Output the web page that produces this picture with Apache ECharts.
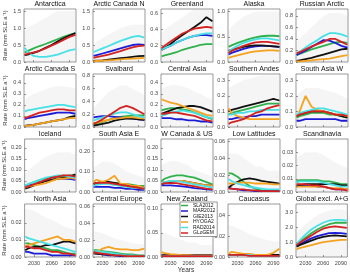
<!DOCTYPE html>
<html>
<head>
<meta charset="utf-8">
<script src="https://cdn.jsdelivr.net/npm/echarts@6/dist/echarts.min.js"></script>
<style>
  html, body { margin: 0; padding: 0; background: #fff; }
  #chart { width: 350px; height: 274px; }
</style>
</head>
<body>
<div id="chart"></div>
<script>
// sample years for every series
const years = [2015, 2020, 2030, 2040, 2050, 2060, 2070, 2080, 2090, 2100];

const panels = ['Antarctica', 'Arctic Canada N', 'Greenland', 'Alaska', 'Russian Arctic',
  'Arctic Canada S', 'Svalbard', 'Central Asia', 'Southern Andes', 'South Asia W',
  'Iceland', 'South Asia E', 'W Canada & US', 'Low Latitudes', 'Scandinavia',
  'North Asia', 'Central Europe', 'New Zealand', 'Caucasus', 'Global excl. A+G'];

const yMax = [1.56, 1.56, 0.65, 1.05, 0.92,
  0.48, 0.83, 0.48, 0.34, 0.34,
  0.24, 0.26, 0.24, 0.0625, 0.04,
  0.031, 0.0625, 0.11, 0.051, 3.56];

const yTicks = [[0, 0.5, 1, 1.5], [0, 0.5, 1, 1.5], [0, 0.2, 0.4, 0.6], [0, 0.5, 1], [0, 0.2, 0.4, 0.6, 0.8],
  [0, 0.1, 0.2, 0.3, 0.4], [0, 0.2, 0.4, 0.6, 0.8], [0, 0.1, 0.2, 0.3, 0.4], [0, 0.1, 0.2, 0.3], [0, 0.1, 0.2, 0.3],
  [0, 0.05, 0.1, 0.15, 0.2], [0, 0.1, 0.2], [0, 0.05, 0.1, 0.15, 0.2], [0, 0.02, 0.04, 0.06], [0, 0.01, 0.02, 0.03],
  [0, 0.01, 0.02], [0, 0.02, 0.04, 0.06], [0, 0.05, 0.1], [0, 0.02, 0.04], [0, 1, 2, 3]];

const yDigits = [1, 1, 1, 1, 1, 1, 1, 1, 1, 1, 2, 2, 2, 2, 2, 2, 2, 2, 2, 1];

const xTicks = [2030, 2060, 2090];

const models = ['SLA2012', 'MAR2012', 'GIE2013', 'HYOGA2', 'RAD2014', 'GLoGEM'];
const colors = ['#2fb14b', '#1c1cd6', '#111111', '#f5a21f', '#46e1e6', '#d42222'];

// upper edge of the faint cloud of individual runs
const spreadHi = [
  [0.9, 1.0, 1.1, 1.2, 1.3, 1.4, 1.5, 1.5, 1.5, 1.5],
  [0.5, 0.6, 0.7, 0.8, 0.9, 1.0, 1.05, 1.1, 1.1, 1.1],
  [0.35, 0.4, 0.45, 0.5, 0.55, 0.6, 0.65, 0.65, 0.65, 0.65],
  [0.6, 0.7, 0.8, 0.9, 0.95, 1.0, 1.0, 1.0, 1.0, 1.0],
  [0.35, 0.4, 0.5, 0.6, 0.7, 0.8, 0.85, 0.85, 0.85, 0.8],
  [0.25, 0.27, 0.3, 0.32, 0.34, 0.36, 0.37, 0.37, 0.36, 0.35],
  [0.3, 0.35, 0.45, 0.55, 0.6, 0.65, 0.65, 0.6, 0.55, 0.5],
  [0.35, 0.36, 0.38, 0.38, 0.37, 0.35, 0.32, 0.3, 0.27, 0.25],
  [0.25, 0.26, 0.28, 0.3, 0.31, 0.32, 0.33, 0.33, 0.33, 0.33],
  [0.2, 0.22, 0.25, 0.25, 0.25, 0.24, 0.23, 0.22, 0.2, 0.18],
  [0.08, 0.1, 0.12, 0.14, 0.16, 0.17, 0.18, 0.18, 0.18, 0.17],
  [0.12, 0.13, 0.15, 0.15, 0.14, 0.12, 0.1, 0.09, 0.08, 0.07],
  [0.12, 0.13, 0.14, 0.14, 0.13, 0.12, 0.1, 0.09, 0.08, 0.07],
  [0.045, 0.045, 0.045, 0.04, 0.035, 0.03, 0.03, 0.025, 0.025, 0.025],
  [0.025, 0.028, 0.03, 0.03, 0.03, 0.028, 0.025, 0.022, 0.02, 0.018],
  [0.028, 0.028, 0.027, 0.025, 0.023, 0.022, 0.02, 0.018, 0.017, 0.016],
  [0.03, 0.03, 0.028, 0.025, 0.022, 0.02, 0.018, 0.016, 0.015, 0.015],
  [0.05, 0.05, 0.045, 0.04, 0.035, 0.03, 0.03, 0.025, 0.025, 0.025],
  [0.03, 0.03, 0.028, 0.025, 0.022, 0.02, 0.018, 0.016, 0.015, 0.015],
  [1.6, 1.8, 2.2, 2.5, 2.8, 3.0, 3.1, 3.2, 3.2, 3.1]
];

// one row per panel, null = model not shown
const SLA2012 = [
  [0.28, 0.32, 0.40, 0.47, 0.53, 0.60, 0.67, 0.74, 0.80, 0.85],
  null,
  [0.07, 0.08, 0.10, 0.12, 0.15, 0.17, 0.19, 0.21, 0.22, 0.22],
  [0.30, 0.33, 0.38, 0.42, 0.46, 0.49, 0.51, 0.52, 0.52, 0.51],
  [0.12, 0.14, 0.18, 0.22, 0.25, 0.28, 0.31, 0.34, 0.35, 0.33],
  null,
  [0.03, 0.05, 0.08, 0.11, 0.14, 0.16, 0.17, 0.18, 0.18, 0.18],
  [0.15, 0.16, 0.17, 0.17, 0.16, 0.15, 0.13, 0.11, 0.09, 0.07],
  [0.08, 0.09, 0.10, 0.11, 0.12, 0.13, 0.14, 0.15, 0.15, 0.15],
  [0.06, 0.07, 0.08, 0.09, 0.09, 0.09, 0.08, 0.08, 0.07, 0.06],
  [0.03, 0.035, 0.045, 0.055, 0.06, 0.065, 0.07, 0.07, 0.075, 0.075],
  [0.04, 0.045, 0.045, 0.045, 0.045, 0.04, 0.04, 0.035, 0.03, 0.03],
  [0.05, 0.06, 0.07, 0.075, 0.075, 0.07, 0.065, 0.055, 0.045, 0.035],
  [0.022, 0.022, 0.018, 0.012, 0.007, 0.004, 0.002, 0.001, 0.001, 0.001],
  [0.008, 0.009, 0.009, 0.009, 0.009, 0.008, 0.008, 0.007, 0.006, 0.006],
  [0.008, 0.008, 0.007, 0.006, 0.005, 0.004, 0.004, 0.003, 0.002, 0.002],
  [0.008, 0.008, 0.007, 0.006, 0.005, 0.004, 0.003, 0.003, 0.002, 0.002],
  [0.002, 0.002, 0.002, 0.002, 0.002, 0.002, 0.002, 0.002, 0.002, 0.002],
  [0.002, 0.002, 0.002, 0.002, 0.002, 0.002, 0.001, 0.001, 0.001, 0.001],
  [0.85, 1.0, 1.3, 1.6, 1.85, 2.05, 2.2, 2.3, 2.3, 2.3]
];

const MAR2012 = [
  null,
  [0.18, 0.20, 0.25, 0.30, 0.35, 0.40, 0.45, 0.50, 0.52, 0.50],
  [0.15, 0.17, 0.20, 0.24, 0.27, 0.30, 0.32, 0.33, 0.33, 0.32],
  [0.15, 0.18, 0.22, 0.26, 0.29, 0.31, 0.32, 0.32, 0.31, 0.30],
  [0.12, 0.15, 0.20, 0.26, 0.32, 0.38, 0.37, 0.33, 0.28, 0.25],
  [0.07, 0.08, 0.09, 0.10, 0.11, 0.12, 0.13, 0.13, 0.13, 0.12],
  [0.15, 0.16, 0.17, 0.17, 0.16, 0.15, 0.14, 0.13, 0.12, 0.11],
  [0.08, 0.08, 0.08, 0.07, 0.07, 0.06, 0.06, 0.05, 0.05, 0.04],
  [0.05, 0.05, 0.06, 0.06, 0.07, 0.07, 0.08, 0.08, 0.08, 0.08],
  [0.04, 0.04, 0.05, 0.05, 0.05, 0.05, 0.05, 0.05, 0.04, 0.04],
  [0.025, 0.03, 0.035, 0.045, 0.05, 0.055, 0.06, 0.06, 0.06, 0.055],
  [0.025, 0.025, 0.025, 0.025, 0.02, 0.02, 0.015, 0.015, 0.01, 0.01],
  [0.03, 0.03, 0.03, 0.028, 0.025, 0.022, 0.018, 0.015, 0.012, 0.01],
  [0.005, 0.004, 0.003, 0.002, 0.002, 0.001, 0.001, 0.001, 0.001, 0.001],
  [0.005, 0.005, 0.005, 0.005, 0.004, 0.004, 0.003, 0.002, 0.002, 0.002],
  [0.003, 0.003, 0.002, 0.002, 0.002, 0.001, 0.001, 0.001, 0.001, 0.001],
  [0.005, 0.004, 0.003, 0.002, 0.002, 0.001, 0.001, 0.001, 0.001, 0.001],
  [0.003, 0.003, 0.003, 0.003, 0.003, 0.002, 0.002, 0.002, 0.002, 0.002],
  [0.002, 0.002, 0.002, 0.002, 0.0015, 0.0015, 0.001, 0.001, 0.001, 0.001],
  [0.75, 0.85, 1.05, 1.25, 1.4, 1.5, 1.6, 1.62, 1.6, 1.55]
];

const GIE2013 = [
  [0.20, 0.22, 0.27, 0.33, 0.42, 0.50, 0.60, 0.70, 0.78, 0.85],
  [0.03, 0.04, 0.05, 0.07, 0.09, 0.11, 0.13, 0.15, 0.17, 0.18],
  [0.15, 0.17, 0.22, 0.28, 0.33, 0.38, 0.43, 0.48, 0.55, 0.50],
  [0.22, 0.24, 0.27, 0.30, 0.32, 0.33, 0.33, 0.32, 0.31, 0.30],
  [0.02, 0.03, 0.05, 0.07, 0.10, 0.13, 0.16, 0.19, 0.22, 0.23],
  [0.01, 0.015, 0.02, 0.03, 0.04, 0.05, 0.06, 0.07, 0.09, 0.10],
  [0.02, 0.03, 0.05, 0.07, 0.10, 0.12, 0.13, 0.13, 0.12, 0.11],
  [0.12, 0.13, 0.15, 0.17, 0.18, 0.19, 0.19, 0.18, 0.16, 0.14],
  [0.10, 0.11, 0.12, 0.13, 0.14, 0.15, 0.16, 0.17, 0.18, 0.17],
  [0.07, 0.08, 0.09, 0.10, 0.10, 0.10, 0.09, 0.08, 0.07, 0.06],
  [0.015, 0.02, 0.03, 0.04, 0.05, 0.055, 0.06, 0.065, 0.07, 0.08],
  [0.04, 0.045, 0.05, 0.05, 0.045, 0.04, 0.035, 0.03, 0.025, 0.02],
  [0.035, 0.04, 0.045, 0.05, 0.05, 0.045, 0.04, 0.035, 0.03, 0.03],
  [0.005, 0.008, 0.012, 0.015, 0.016, 0.015, 0.013, 0.012, 0.011, 0.010],
  [0.004, 0.005, 0.006, 0.006, 0.006, 0.006, 0.006, 0.006, 0.005, 0.005],
  [0.004, 0.005, 0.006, 0.006, 0.007, 0.007, 0.008, 0.009, 0.009, 0.008],
  [0.004, 0.004, 0.003, 0.003, 0.002, 0.002, 0.002, 0.001, 0.001, 0.001],
  [0.004, 0.004, 0.004, 0.004, 0.004, 0.004, 0.004, 0.004, 0.004, 0.004],
  [0.002, 0.002, 0.002, 0.002, 0.002, 0.002, 0.002, 0.002, 0.002, 0.002],
  [0.7, 0.8, 0.95, 1.1, 1.25, 1.35, 1.42, 1.45, 1.42, 1.38]
];

const HYOGA2 = [
  null,
  [0.02, 0.03, 0.04, 0.05, 0.06, 0.08, 0.09, 0.10, 0.11, 0.12],
  null,
  [0.08, 0.10, 0.13, 0.16, 0.19, 0.21, 0.22, 0.23, 0.23, 0.22],
  [0.01, 0.01, 0.02, 0.03, 0.04, 0.05, 0.06, 0.08, 0.10, 0.12],
  [0.01, 0.01, 0.02, 0.03, 0.04, 0.05, 0.06, 0.07, 0.08, 0.08],
  [0.06, 0.07, 0.09, 0.11, 0.13, 0.14, 0.15, 0.15, 0.14, 0.13],
  [0.25, 0.24, 0.22, 0.21, 0.19, 0.17, 0.15, 0.13, 0.11, 0.10],
  [0.12, 0.09, 0.07, 0.06, 0.05, 0.05, 0.05, 0.05, 0.05, 0.05],
  [0.07, 0.10, 0.20, 0.13, 0.11, 0.10, 0.09, 0.08, 0.08, 0.07],
  [0.02, 0.025, 0.03, 0.035, 0.04, 0.05, 0.06, 0.06, 0.065, 0.06],
  [0.05, 0.06, 0.05, 0.06, 0.08, 0.04, 0.04, 0.03, 0.03, 0.02],
  [0.04, 0.045, 0.05, 0.05, 0.05, 0.045, 0.04, 0.035, 0.03, 0.03],
  [0.010, 0.010, 0.011, 0.011, 0.011, 0.010, 0.010, 0.010, 0.009, 0.009],
  [0.004, 0.004, 0.004, 0.004, 0.004, 0.004, 0.003, 0.003, 0.003, 0.002],
  [0.006, 0.007, 0.008, 0.009, 0.010, 0.011, 0.012, 0.010, 0.010, 0.009],
  [0.005, 0.006, 0.010, 0.012, 0.010, 0.009, 0.009, 0.008, 0.008, 0.010],
  [0.010, 0.008, 0.006, 0.005, 0.004, 0.004, 0.003, 0.003, 0.003, 0.003],
  [0.003, 0.005, 0.004, 0.003, 0.003, 0.002, 0.002, 0.002, 0.004, 0.008],
  [0.5, 0.6, 0.7, 0.8, 0.9, 1.0, 1.05, 1.1, 1.15, 1.15]
];

const RAD2014 = [
  [0.42, 0.30, 0.18, 0.15, 0.15, 0.18, 0.22, 0.28, 0.34, 0.38],
  [0.30, 0.33, 0.40, 0.47, 0.55, 0.62, 0.68, 0.74, 0.77, 0.72],
  [0.15, 0.17, 0.20, 0.24, 0.27, 0.30, 0.32, 0.34, 0.35, 0.35],
  [0.20, 0.25, 0.32, 0.38, 0.42, 0.45, 0.47, 0.47, 0.45, 0.43],
  [0.15, 0.18, 0.25, 0.32, 0.38, 0.45, 0.50, 0.50, 0.48, 0.44],
  [0.14, 0.15, 0.16, 0.17, 0.18, 0.19, 0.20, 0.20, 0.19, 0.18],
  [0.10, 0.12, 0.15, 0.18, 0.21, 0.23, 0.23, 0.20, 0.17, 0.15],
  [0.10, 0.11, 0.13, 0.14, 0.15, 0.14, 0.13, 0.11, 0.09, 0.08],
  [0.08, 0.08, 0.09, 0.09, 0.10, 0.10, 0.11, 0.11, 0.11, 0.11],
  [0.08, 0.09, 0.10, 0.11, 0.12, 0.12, 0.11, 0.10, 0.09, 0.08],
  [0.03, 0.035, 0.045, 0.055, 0.065, 0.07, 0.075, 0.075, 0.07, 0.065],
  [0.03, 0.035, 0.04, 0.04, 0.035, 0.03, 0.025, 0.02, 0.02, 0.015],
  [0.04, 0.045, 0.05, 0.05, 0.045, 0.04, 0.035, 0.03, 0.025, 0.02],
  [0.015, 0.013, 0.010, 0.008, 0.006, 0.005, 0.004, 0.003, 0.003, 0.003],
  [0.007, 0.008, 0.008, 0.008, 0.008, 0.007, 0.006, 0.005, 0.004, 0.004],
  [0.012, 0.011, 0.010, 0.009, 0.008, 0.007, 0.006, 0.005, 0.004, 0.003],
  [0.007, 0.007, 0.006, 0.005, 0.004, 0.003, 0.002, 0.002, 0.001, 0.001],
  [0.002, 0.002, 0.002, 0.002, 0.002, 0.002, 0.002, 0.002, 0.002, 0.002],
  [0.002, 0.002, 0.002, 0.002, 0.002, 0.001, 0.001, 0.001, 0.001, 0.001],
  [0.9, 1.1, 1.5, 1.85, 2.1, 2.3, 2.45, 2.5, 2.5, 2.45]
];

const GLoGEM = [
  [0.22, 0.24, 0.28, 0.33, 0.40, 0.48, 0.56, 0.65, 0.74, 0.80],
  [0.12, 0.14, 0.18, 0.22, 0.27, 0.32, 0.38, 0.43, 0.47, 0.48],
  [0.17, 0.20, 0.25, 0.30, 0.35, 0.38, 0.41, 0.42, 0.43, 0.42],
  [0.18, 0.22, 0.27, 0.32, 0.36, 0.39, 0.40, 0.40, 0.38, 0.36],
  [0.15, 0.17, 0.22, 0.27, 0.31, 0.35, 0.40, 0.40, 0.35, 0.30],
  [0.08, 0.09, 0.11, 0.13, 0.14, 0.15, 0.16, 0.16, 0.15, 0.15],
  [0.05, 0.07, 0.12, 0.18, 0.24, 0.30, 0.33, 0.30, 0.25, 0.20],
  [0.12, 0.12, 0.13, 0.13, 0.12, 0.11, 0.10, 0.08, 0.06, 0.05],
  [0.02, 0.03, 0.04, 0.05, 0.07, 0.09, 0.10, 0.12, 0.13, 0.14],
  [0.07, 0.08, 0.09, 0.10, 0.10, 0.10, 0.09, 0.08, 0.08, 0.07],
  [0.02, 0.025, 0.035, 0.045, 0.055, 0.065, 0.07, 0.075, 0.075, 0.07],
  [0.04, 0.045, 0.045, 0.045, 0.04, 0.035, 0.03, 0.025, 0.02, 0.015],
  [0.035, 0.04, 0.04, 0.04, 0.035, 0.03, 0.025, 0.02, 0.015, 0.012],
  [0.004, 0.004, 0.003, 0.003, 0.002, 0.002, 0.001, 0.001, 0.001, 0.001],
  [0.006, 0.006, 0.006, 0.005, 0.005, 0.004, 0.003, 0.002, 0.002, 0.001],
  [0.006, 0.006, 0.005, 0.005, 0.004, 0.003, 0.003, 0.002, 0.002, 0.001],
  [0.006, 0.005, 0.004, 0.003, 0.002, 0.002, 0.001, 0.001, 0.001, 0.001],
  [0.002, 0.002, 0.002, 0.002, 0.002, 0.002, 0.002, 0.002, 0.002, 0.002],
  [0.002, 0.002, 0.002, 0.002, 0.001, 0.001, 0.001, 0.001, 0.001, 0.001],
  [0.8, 0.95, 1.2, 1.45, 1.7, 1.9, 2.0, 2.05, 2.0, 1.95]
];

const modelData = [SLA2012, MAR2012, GIE2013, HYOGA2, RAD2014, GLoGEM];

// layout of the 5x4 panel grid
const colLeft = [24, 93, 161, 228, 296];
const rowTop = [9, 74, 139, 204];
const pw = 52, ph = 53;
const font = 'Liberation Sans, Arial, sans-serif';

const grids = [], xAxes = [], yAxes = [], series = [], graphics = [];

panels.forEach((name, i) => {
  const c = i % 5, r = Math.floor(i / 5);
  grids.push({ left: colLeft[c], top: rowTop[r], width: pw, height: ph,
    show: true, borderColor: '#555', borderWidth: 0.6, backgroundColor: '#fff' });

  xAxes.push({
    type: 'value', gridIndex: i, min: 2014, max: 2101,
    axisLine: { show: false }, splitLine: { show: false },
    axisTick: { show: true, inside: true, length: 2, customValues: xTicks, lineStyle: { color: '#555', width: 0.6 } },
    axisLabel: { show: r === 3, customValues: xTicks, fontSize: 5.5, margin: 3, color: '#444', fontFamily: font,
      formatter: v => String(v) }
  });

  yAxes.push({
    type: 'value', gridIndex: i, min: 0, max: yMax[i],
    axisLine: { show: false }, splitLine: { show: false },
    axisTick: { show: true, inside: true, length: 2, customValues: yTicks[i], lineStyle: { color: '#555', width: 0.6 } },
    axisLabel: { customValues: yTicks[i], fontSize: 5.5, margin: 3, color: '#444', fontFamily: font,
      formatter: v => v.toFixed(yDigits[i]) },
    name: c === 0 ? 'Rate (mm SLE a\u207B\u00B9)' : '',
    nameLocation: 'middle', nameGap: 16,
    nameTextStyle: { fontSize: 6, color: '#333', fontFamily: font }
  });

  graphics.push({ type: 'text', x: colLeft[c] + pw / 2, y: rowTop[r] - 8.5,
    style: { text: name, fontSize: 7, fill: '#111', textAlign: 'center', textVerticalAlign: 'top', fontFamily: font } });

  // faint cloud of individual runs behind the model means
  series.push({
    type: 'line', xAxisIndex: i, yAxisIndex: i, silent: true, showSymbol: false, z: 1,
    data: years.map((y, k) => [y, spreadHi[i][k]]),
    lineStyle: { width: 0 }, areaStyle: { color: 'rgba(150,150,150,0.14)' }
  });

  modelData.forEach((rows, m) => {
    const vals = rows[i];
    if (!vals) return;
    series.push({
      type: 'line', name: models[m], xAxisIndex: i, yAxisIndex: i,
      data: years.map((y, k) => [y, vals[k]]),
      showSymbol: false, silent: true, clip: true, z: 2,
      lineStyle: { width: 1.8, color: colors[m] }, itemStyle: { color: colors[m] }
    });
  });
});

graphics.push({ type: 'text', x: 186, y: 270, z: 10,
  style: { text: 'Years', fontSize: 6.5, fill: '#333', textAlign: 'center', textVerticalAlign: 'middle', fontFamily: font } });

const chart = echarts.init(document.getElementById('chart'), null, { renderer: 'canvas' });
chart.setOption({
  animation: false,
  color: colors,
  grid: grids, xAxis: xAxes, yAxis: yAxes, series: series,
  graphic: graphics,
  legend: {
    data: models, orient: 'vertical', left: 180, top: 202,
    icon: 'rect', itemWidth: 7, itemHeight: 1.5, itemGap: 0.5,
    padding: [1, 2, 1, 1], borderColor: '#333', borderWidth: 0.5, backgroundColor: '#fff',
    textStyle: { fontSize: 5, color: '#111', fontFamily: font }
  }
});
</script>
</body>
</html>
